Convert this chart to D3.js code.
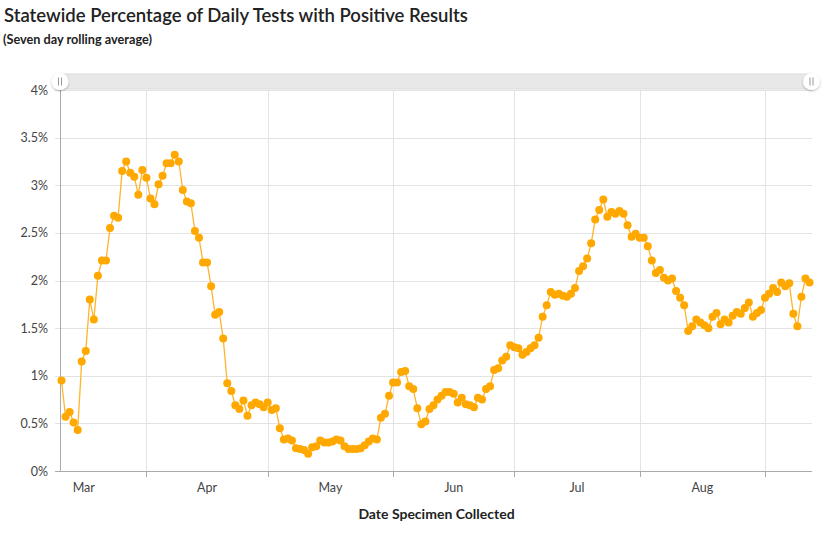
<!DOCTYPE html>
<head>
  <meta charset="utf-8" />
  <script src="https://d3js.org/d3.v7.min.js"></script>
  <style>
    body {
      margin: 0;
      background: #fff;
      font-family: Lato, "Open Sans", sans-serif;
    }
  </style>
</head>
<body>
  <script>
    var width = 835,
      height = 537;

    // first day of the series, then one value a day (percent positive)
    var startDate = "2020-03-11";
    var positivity = [
      0.95, 0.57, 0.62, 0.51, 0.43, 1.15, 1.26, 1.80, 1.59, 2.05,
      2.21, 2.21, 2.55, 2.68, 2.66, 3.15, 3.25, 3.13, 3.09, 2.90,
      3.16, 3.08, 2.86, 2.80, 3.01, 3.10, 3.23, 3.23, 3.32, 3.25,
      2.95, 2.83, 2.81, 2.52, 2.45, 2.19, 2.19, 1.94, 1.64, 1.67,
      1.39, 0.92, 0.84, 0.69, 0.65, 0.74, 0.58, 0.69, 0.72, 0.70,
      0.67, 0.72, 0.64, 0.66, 0.45, 0.33, 0.34, 0.32, 0.24, 0.23,
      0.22, 0.18, 0.25, 0.26, 0.32, 0.30, 0.30, 0.31, 0.33, 0.32,
      0.26, 0.23, 0.23, 0.23, 0.24, 0.27, 0.31, 0.34, 0.33, 0.56,
      0.60, 0.79, 0.93, 0.93, 1.04, 1.05, 0.89, 0.86, 0.66, 0.49,
      0.52, 0.65, 0.69, 0.75, 0.79, 0.83, 0.83, 0.81, 0.72, 0.77,
      0.70, 0.69, 0.67, 0.77, 0.75, 0.86, 0.89, 1.06, 1.08, 1.16,
      1.20, 1.32, 1.30, 1.29, 1.22, 1.25, 1.29, 1.32, 1.40, 1.62,
      1.74, 1.88, 1.85, 1.86, 1.84, 1.83, 1.86, 1.92, 2.10, 2.15,
      2.23, 2.39, 2.64, 2.74, 2.85, 2.67, 2.72, 2.70, 2.73, 2.70,
      2.58, 2.46, 2.49, 2.45, 2.45, 2.36, 2.21, 2.08, 2.11, 2.03,
      2.00, 2.02, 1.89, 1.82, 1.74, 1.47, 1.52, 1.59, 1.56, 1.53,
      1.50, 1.62, 1.66, 1.54, 1.59, 1.56, 1.63, 1.67, 1.65, 1.71,
      1.77, 1.62, 1.66, 1.69, 1.82, 1.86, 1.92, 1.88, 1.98, 1.94,
      1.97, 1.65, 1.52, 1.83, 2.02, 1.98
    ];
    var yTicks = [0, 0.5, 1, 1.5, 2, 2.5, 3, 3.5, 4];
    var monthNames = ["Mar", "Apr", "May", "Jun", "Jul", "Aug"];

    var title = "Statewide Percentage of Daily Tests with Positive Results";
    var subtitle = "(Seven day rolling average)";
    var xTitle = "Date Specimen Collected";

    var t0 = d3.timeParse("%Y-%m-%d")(startDate);
    var data = positivity.map(function (v, i) {
      return { date: d3.timeDay.offset(t0, i), value: v };
    });

    // plot box (window.top is read-only, so use other names)
    var pLeft = 61, pRight = 812, pTop = 90, pBottom = 471;

    var x = d3.scaleTime()
      .domain(d3.extent(data, d => d.date))
      .range([61.5, 809.5]);
    var y = d3.scaleLinear().domain([0, 4]).range([pBottom, pTop]);

    var svg = d3.select("body").append("svg")
      .attr("width", width)
      .attr("height", height);

    var defs = svg.append("defs");
    var f = defs.append("filter").attr("id", "shadow")
      .attr("x", "-50%").attr("y", "-50%").attr("width", "200%").attr("height", "200%");
    f.append("feDropShadow").attr("dx", 0).attr("dy", 1).attr("stdDeviation", 1.2)
      .attr("flood-color", "#000").attr("flood-opacity", 0.3);

    // titles
    svg.append("text").attr("x", 4).attr("y", 22)
      .style("font-size", "18.5px").style("font-weight", 600).style("fill", "#222")
      .text(title);
    svg.append("text").attr("x", 3).attr("y", 43.5)
      .style("font-size", "12.7px").style("font-weight", 700).style("fill", "#222")
      .text(subtitle);

    // horizontal grid + y labels
    svg.append("g").selectAll("line").data(yTicks).join("line")
      .attr("x1", pLeft - 6).attr("x2", pRight)
      .attr("y1", d => Math.round(y(d)) + 0.5).attr("y2", d => Math.round(y(d)) + 0.5)
      .attr("stroke", d => d === 0 ? "#aaa" : "#e3e3e3");
    svg.append("g").selectAll("text").data(yTicks).join("text")
      .attr("x", 48).attr("y", d => y(d) + 4.5)
      .attr("text-anchor", "end")
      .style("font-size", "12.5px").style("fill", "#444")
      .text(d => d + "%");

    // months
    var bounds = d3.timeMonth.range(new Date(2020, 2, 1), new Date(2020, 8, 2));
    var inside = bounds.filter(d => d > t0);
    svg.append("g").selectAll("line").data(inside).join("line")
      .attr("x1", d => Math.round(x(d)) + 0.5).attr("x2", d => Math.round(x(d)) + 0.5)
      .attr("y1", pTop).attr("y2", pBottom)
      .attr("stroke", "#e3e3e3");
    svg.append("g").selectAll("line").data(inside).join("line")
      .attr("x1", d => Math.round(x(d)) + 0.5).attr("x2", d => Math.round(x(d)) + 0.5)
      .attr("y1", pBottom).attr("y2", pBottom + 6)
      .attr("stroke", "#aaa");
    svg.append("g").selectAll("text").data(monthNames).join("text")
      .attr("x", (d, i) => (x(bounds[i]) + x(bounds[i + 1])) / 2)
      .attr("y", 492)
      .attr("text-anchor", "middle")
      .style("font-size", "12.5px").style("fill", "#444")
      .text(d => d);

    // axis lines
    svg.append("line").attr("x1", pLeft - 0.5).attr("x2", pLeft - 0.5)
      .attr("y1", pTop).attr("y2", pBottom + 0.5).attr("stroke", "#aaa");
    svg.append("line").attr("x1", pLeft - 0.5).attr("x2", pRight)
      .attr("y1", pBottom + 0.5).attr("y2", pBottom + 0.5).attr("stroke", "#aaa");

    svg.append("text").attr("x", (pLeft + pRight) / 2).attr("y", 519)
      .attr("text-anchor", "middle")
      .style("font-size", "14px").style("font-weight", 700).style("fill", "#222")
      .text(xTitle);

    // line + points
    var line = d3.line().x(d => x(d.date)).y(d => y(d.value));
    svg.append("path").datum(data)
      .attr("d", line)
      .attr("fill", "none")
      .attr("stroke", "#ffb42a")
      .attr("stroke-width", 1.3);
    svg.append("g").selectAll("circle").data(data).join("circle")
      .attr("cx", d => x(d.date))
      .attr("cy", d => y(d.value))
      .attr("r", 4)
      .attr("fill", "#ffa800");

    // range slider on top
    svg.append("rect").attr("x", pLeft - 1).attr("y", 74).attr("width", pRight - pLeft + 1).attr("height", 15)
      .attr("fill", "#e8e8e8").attr("stroke", "#dcdcdc");
    [60, 811.5].forEach(function (cx) {
      var h = svg.append("g").attr("transform", "translate(" + cx + ",81.5)");
      h.append("circle").attr("r", 8.5).attr("fill", "#fff").attr("filter", "url(#shadow)");
      h.append("line").attr("x1", -1.5).attr("x2", -1.5).attr("y1", -4).attr("y2", 4).attr("stroke", "#999");
      h.append("line").attr("x1", 1.5).attr("x2", 1.5).attr("y1", -4).attr("y2", 4).attr("stroke", "#999");
    });
  </script>
</body>
